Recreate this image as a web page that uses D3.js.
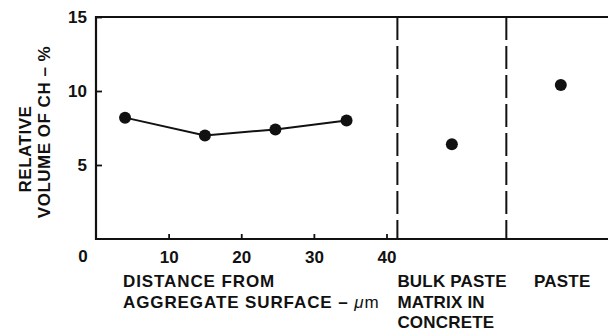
<!DOCTYPE html>
<html>
<head>
<meta charset="utf-8">
<script src="https://cdn.jsdelivr.net/npm/d3@7"></script>
<style>
  html, body { margin: 0; padding: 0; background: #fff; }
  svg { display: block; }
  text { font-family: "Liberation Sans", Arial, sans-serif; font-weight: bold; fill: #111; }
</style>
</head>
<body>
<svg id="chart" width="608" height="333"></svg>
<script>
// Relative volume of CH vs. distance from the aggregate surface
const distance = [4, 15, 24.7, 34.5];          // µm
const chVolume = [8.2, 7.0, 7.4, 8.0];          // %

// Reference measurements shown in separate columns
const refCategories = ["BULK PASTE\nMATRIX IN\nCONCRETE", "PASTE"];
const refPositions = [49, 64];
const refValues = [6.4, 10.4];

// Column boundaries (dashed) on the distance scale
const regionBounds = [41.5, 56.5];

const xTicks = [10, 20, 30, 40];
const yTicks = [5, 10, 15];
const xTitle = ["DISTANCE FROM", "AGGREGATE SURFACE \u2013 "];
const yTitle = ["RELATIVE", "VOLUME OF CH \u2013 %"];

const plotL = 96, plotT = 17, plotB = 239, plotR = 608;
const fs = 17;

const svg = d3.select("#chart");
const x = d3.scaleLinear().domain([0, 40]).range([plotL, 386.5]);
const y = d3.scaleLinear().domain([0, 15]).range([plotB, plotT]);

const ink = "#111";

// frame: top, left, bottom
svg.append("path")
  .attr("d", `M${plotR},${plotT}H${plotL}V${plotB}H${plotR}`)
  .attr("fill", "none").attr("stroke", ink).attr("stroke-width", 2.2);

// x axis (ticks point inward)
const xAxis = svg.append("g").attr("transform", `translate(0,${plotB})`)
  .call(d3.axisBottom(x).tickValues(xTicks).tickSize(-5).tickPadding(12).tickFormat(d3.format("d")));
xAxis.select(".domain").remove();
xAxis.selectAll("line").attr("stroke", ink).attr("stroke-width", 1.8);
xAxis.selectAll("text").attr("font-size", fs).attr("font-family", null).attr("dy", "0.71em").attr("fill", ink);

// y axis (ticks point inward)
const yAxis = svg.append("g").attr("transform", `translate(${plotL},0)`)
  .call(d3.axisLeft(y).tickValues(yTicks).tickSize(-6).tickPadding(9).tickFormat(d3.format("d")));
yAxis.select(".domain").remove();
yAxis.selectAll("line").attr("stroke", ink).attr("stroke-width", 1.8);
yAxis.selectAll("text").attr("font-size", fs).attr("font-family", null).attr("fill", ink);

// shared origin label
svg.append("text").attr("x", x(0) - 13).attr("y", y(0) + 17)
  .attr("text-anchor", "middle").attr("dy", "0.35em").attr("font-size", fs).text("0");

// dashed column boundaries
svg.selectAll("line.bound").data(regionBounds).join("line")
  .attr("class", "bound")
  .attr("x1", d => x(d)).attr("x2", d => x(d))
  .attr("y1", plotT).attr("y2", plotB)
  .attr("stroke", ink).attr("stroke-width", 2)
  .attr("stroke-dasharray", "23,6");

// line series
const pts = distance.map((d, i) => [d, chVolume[i]]);
svg.append("path").datum(pts)
  .attr("d", d3.line().x(d => x(d[0])).y(d => y(d[1])))
  .attr("fill", "none").attr("stroke", ink).attr("stroke-width", 2);
svg.selectAll("circle.pt").data(pts).join("circle")
  .attr("class", "pt")
  .attr("cx", d => x(d[0])).attr("cy", d => y(d[1])).attr("r", 6).attr("fill", ink);

// reference points
svg.selectAll("circle.ref").data(refValues).join("circle")
  .attr("class", "ref")
  .attr("cx", (d, i) => x(refPositions[i])).attr("cy", d => y(d)).attr("r", 6).attr("fill", ink);

// x title (unit with italic mu)
const xt = svg.append("text").attr("x", 123).attr("y", 287).attr("font-size", fs).attr("letter-spacing", 0.9);
xTitle.forEach((t, i) => xt.append("tspan").attr("x", 123).attr("dy", i ? 21 : 0).text(t));
xt.append("tspan").attr("font-style", "italic").attr("font-weight", "normal").text("\u03bc");
xt.append("tspan").attr("font-weight", "normal").text("m");

// column labels
const labelX = [x(regionBounds[0]), 534];
refCategories.forEach((c, j) => {
  const t = svg.append("text").attr("x", labelX[j]).attr("y", 287).attr("font-size", fs).attr("letter-spacing", 0.2);
  c.split("\n").forEach((s, i) => t.append("tspan").attr("x", labelX[j]).attr("dy", i ? 20.5 : 0).text(s));
});

// y title (rotated)
const yCenters = [[31, 149], [50, 132]];
yTitle.forEach((t, i) => {
  svg.append("text")
    .attr("transform", `translate(${yCenters[i][0]},${yCenters[i][1]}) rotate(-90)`)
    .attr("text-anchor", "middle").attr("font-size", fs).attr("letter-spacing", 0.5).text(t);
});
</script>
</body>
</html>
